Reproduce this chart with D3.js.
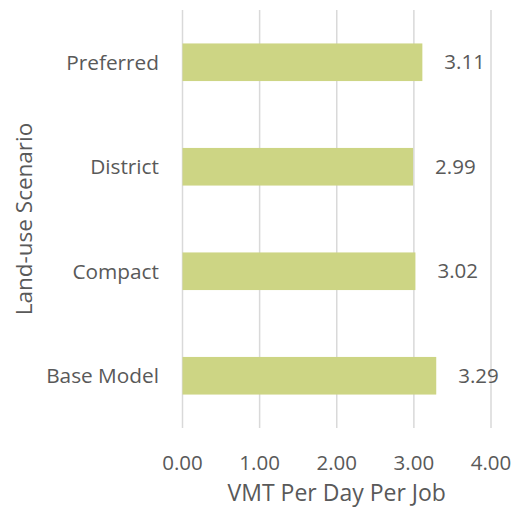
<!DOCTYPE html>
<html><head><meta charset="utf-8">
<script src="https://cdn.jsdelivr.net/npm/d3@7"></script>
<style>body{margin:0;background:#fff}text{font-family:"Open Sans",sans-serif;fill:#595959}</style>
</head><body>
<svg id="c" width="513" height="509"></svg>
<script>
const categories = ["Preferred","District","Compact","Base Model"];
const values = [3.11, 2.99, 3.02, 3.29];
const ticks = [0,1,2,3,4];
const xTitle = "VMT Per Day Per Job";
const yTitle = "Land-use Scenario";

const svg = d3.select("#c");
const m = {l:182.5, r:491, t:10, b:428};
const x = d3.scaleLinear().domain([0,4]).range([m.l, m.r]);
const y = d3.scaleBand().domain(categories).range([m.t, m.b]).paddingInner(0.64).paddingOuter(0.32);

svg.append("g").selectAll("line").data(ticks).join("line")
  .attr("x1",d=>x(d)).attr("x2",d=>x(d)).attr("y1",m.t).attr("y2",m.b)
  .attr("stroke","#d9d9d9").attr("stroke-width",1.5);

svg.append("g").selectAll("rect").data(values).join("rect")
  .attr("x",x(0)).attr("y",(d,i)=>y(categories[i])).attr("width",d=>x(d)-x(0))
  .attr("height",y.bandwidth()).attr("fill","#cdd584");

svg.append("g").selectAll("text").data(values).join("text")
  .attr("x",d=>x(d)+22).attr("y",(d,i)=>y(categories[i])+y.bandwidth()/2)
  .attr("dy","0.35em").attr("font-size",20.5).text(d=>d.toFixed(2));

svg.append("g").selectAll("text").data(categories).join("text")
  .attr("x",159).attr("y",d=>y(d)+y.bandwidth()/2).attr("dy","0.35em")
  .attr("text-anchor","end").attr("font-size",20.8).text(d=>d);

svg.append("g").selectAll("text").data(ticks).join("text")
  .attr("x",d=>x(d)).attr("y",463).attr("dy","0.35em")
  .attr("text-anchor","middle").attr("font-size",20.5).text(d=>d.toFixed(2));

svg.append("text").attr("x",(m.l+m.r)/2).attr("y",493).attr("dy","0.35em")
  .attr("text-anchor","middle").attr("font-size",23).text(xTitle);

svg.append("text").attr("transform",`translate(24,${(m.t+m.b)/2}) rotate(-90)`)
  .attr("dy","0.35em").attr("text-anchor","middle").attr("font-size",22.5).text(yTitle);
</script>
</body></html>
